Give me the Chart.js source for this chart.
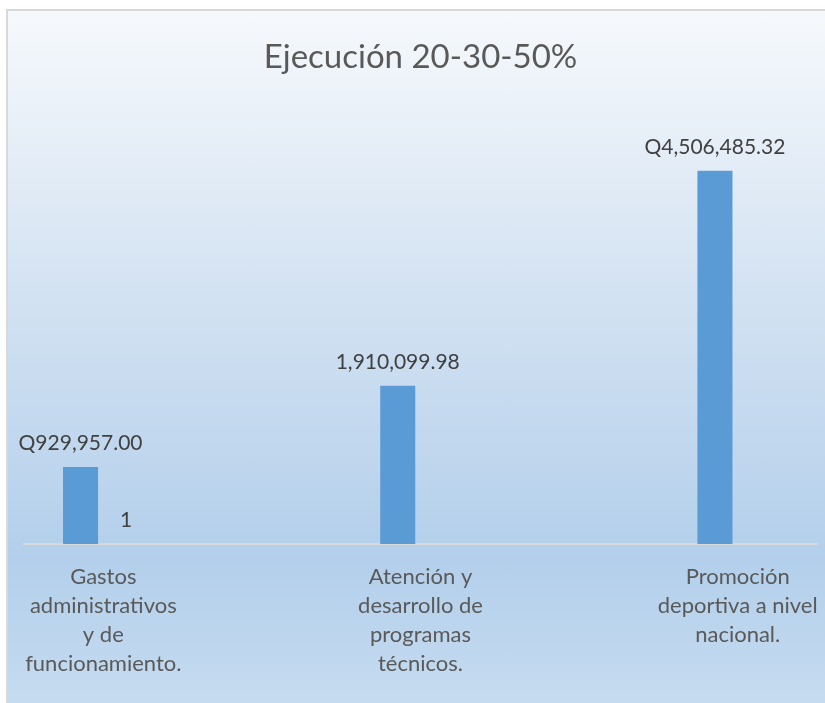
<!DOCTYPE html>
<html lang="es">
<head>
    <meta charset="UTF-8">
    <title>Ejecución 20-30-50%</title>
    <script src="https://cdn.jsdelivr.net/npm/chart.js"></script>
    <style>
        body {
            margin: 0;
            background-color: #fff;
            overflow: hidden;
        }
        .chart-box {
            position: absolute;
            left: 6px;
            top: 9px;
            width: 840px;
            height: 720px;
            border: 2px solid #d9d9d9;
            background: linear-gradient(to bottom, #f6f9fc 0%, #d6e4f3 36%, #b3cfeb 76%, #c9def1 100%);
        }
        #ejecucionChart {
            display: block;
        }
    </style>
</head>
<body>
    <div class="chart-box">
        <canvas id="ejecucionChart" width="817" height="692"></canvas>
    </div>

    <script>
        // Datos
        const categorias = [
            ['Gastos', 'administrativos', 'y de', 'funcionamiento.'],
            ['Atención y', 'desarrollo de', 'programas', 'técnicos.'],
            ['Promoción', 'deportiva a nivel', 'nacional.']
        ];
        const serie1 = [929957.00, 1910099.98, 4506485.32];
        const serie1Prefijo = ['Q', '', 'Q'];
        const serie2 = [1, null, null];
        const valores = [serie1, serie2];

        const fmt = (v, dec) => v.toLocaleString('en-US', { minimumFractionDigits: dec, maximumFractionDigits: dec });

        const ctx = document.getElementById('ejecucionChart').getContext('2d');
        new Chart(ctx, {
            type: 'bar',
            data: {
                datasets: [
                    {
                        label: 'Serie 1',
                        data: serie1.map((v, i) => ({ x: i, y: v })),
                        backgroundColor: '#5b9bd5'
                    },
                    {
                        label: 'Serie 2',
                        data: serie2.map((v, i) => ({ x: i, y: v })),
                        backgroundColor: '#ed7d31'
                    }
                ]
            },
            plugins: [{
                // etiquetas de datos encima de cada barra
                id: 'etiquetas',
                afterDatasetsDraw(chart) {
                    const c = chart.ctx;
                    c.save();
                    c.font = '21px Lato';
                    c.fillStyle = '#404040';
                    c.textAlign = 'center';
                    c.textBaseline = 'alphabetic';
                    valores.forEach((serie, di) => {
                        const meta = chart.getDatasetMeta(di);
                        meta.data.forEach((bar, i) => {
                            const v = serie[i];
                            if (v === null) return;
                            const txt = di === 0 ? serie1Prefijo[i] + fmt(v, 2) : String(v);
                            c.fillText(txt, bar.x, bar.y - 17);
                        });
                    });
                    c.restore();
                }
            }],
            options: {
                responsive: false,
                animation: false,
                categoryPercentage: 0.287,
                barPercentage: 0.77,
                layout: {
                    padding: { left: 16, right: 8, top: 0, bottom: 0 }
                },
                scales: {
                    x: {
                        type: 'linear',
                        offset: false,
                        min: -0.25,
                        max: 2.25,
                        grid: { display: false, drawTicks: false, offset: false },
                        border: { display: true, color: '#d9d9d9', width: 2 },
                        afterBuildTicks(scale) {
                            scale.ticks = [{ value: 0 }, { value: 1 }, { value: 2 }];
                        },
                        afterFit(scale) {
                            scale.height = 159;
                            scale.paddingLeft = 0;
                            scale.paddingRight = 0;
                        },
                        ticks: {
                            padding: 18,
                            color: '#595959',
                            font: { family: 'Lato', size: 22, lineHeight: '29px' },
                            callback: (v) => categorias[v] || ''
                        }
                    },
                    y: {
                        display: false,
                        min: 0,
                        max: 5000000
                    }
                },
                plugins: {
                    legend: { display: false },
                    tooltip: { enabled: false },
                    title: {
                        display: true,
                        text: 'Ejecución 20-30-50%',
                        color: '#595959',
                        font: { family: 'Lato', size: 33, weight: 'normal', lineHeight: '40px' },
                        padding: { top: 26, bottom: 53 }
                    }
                }
            }
        });
    </script>
</body>
</html>
